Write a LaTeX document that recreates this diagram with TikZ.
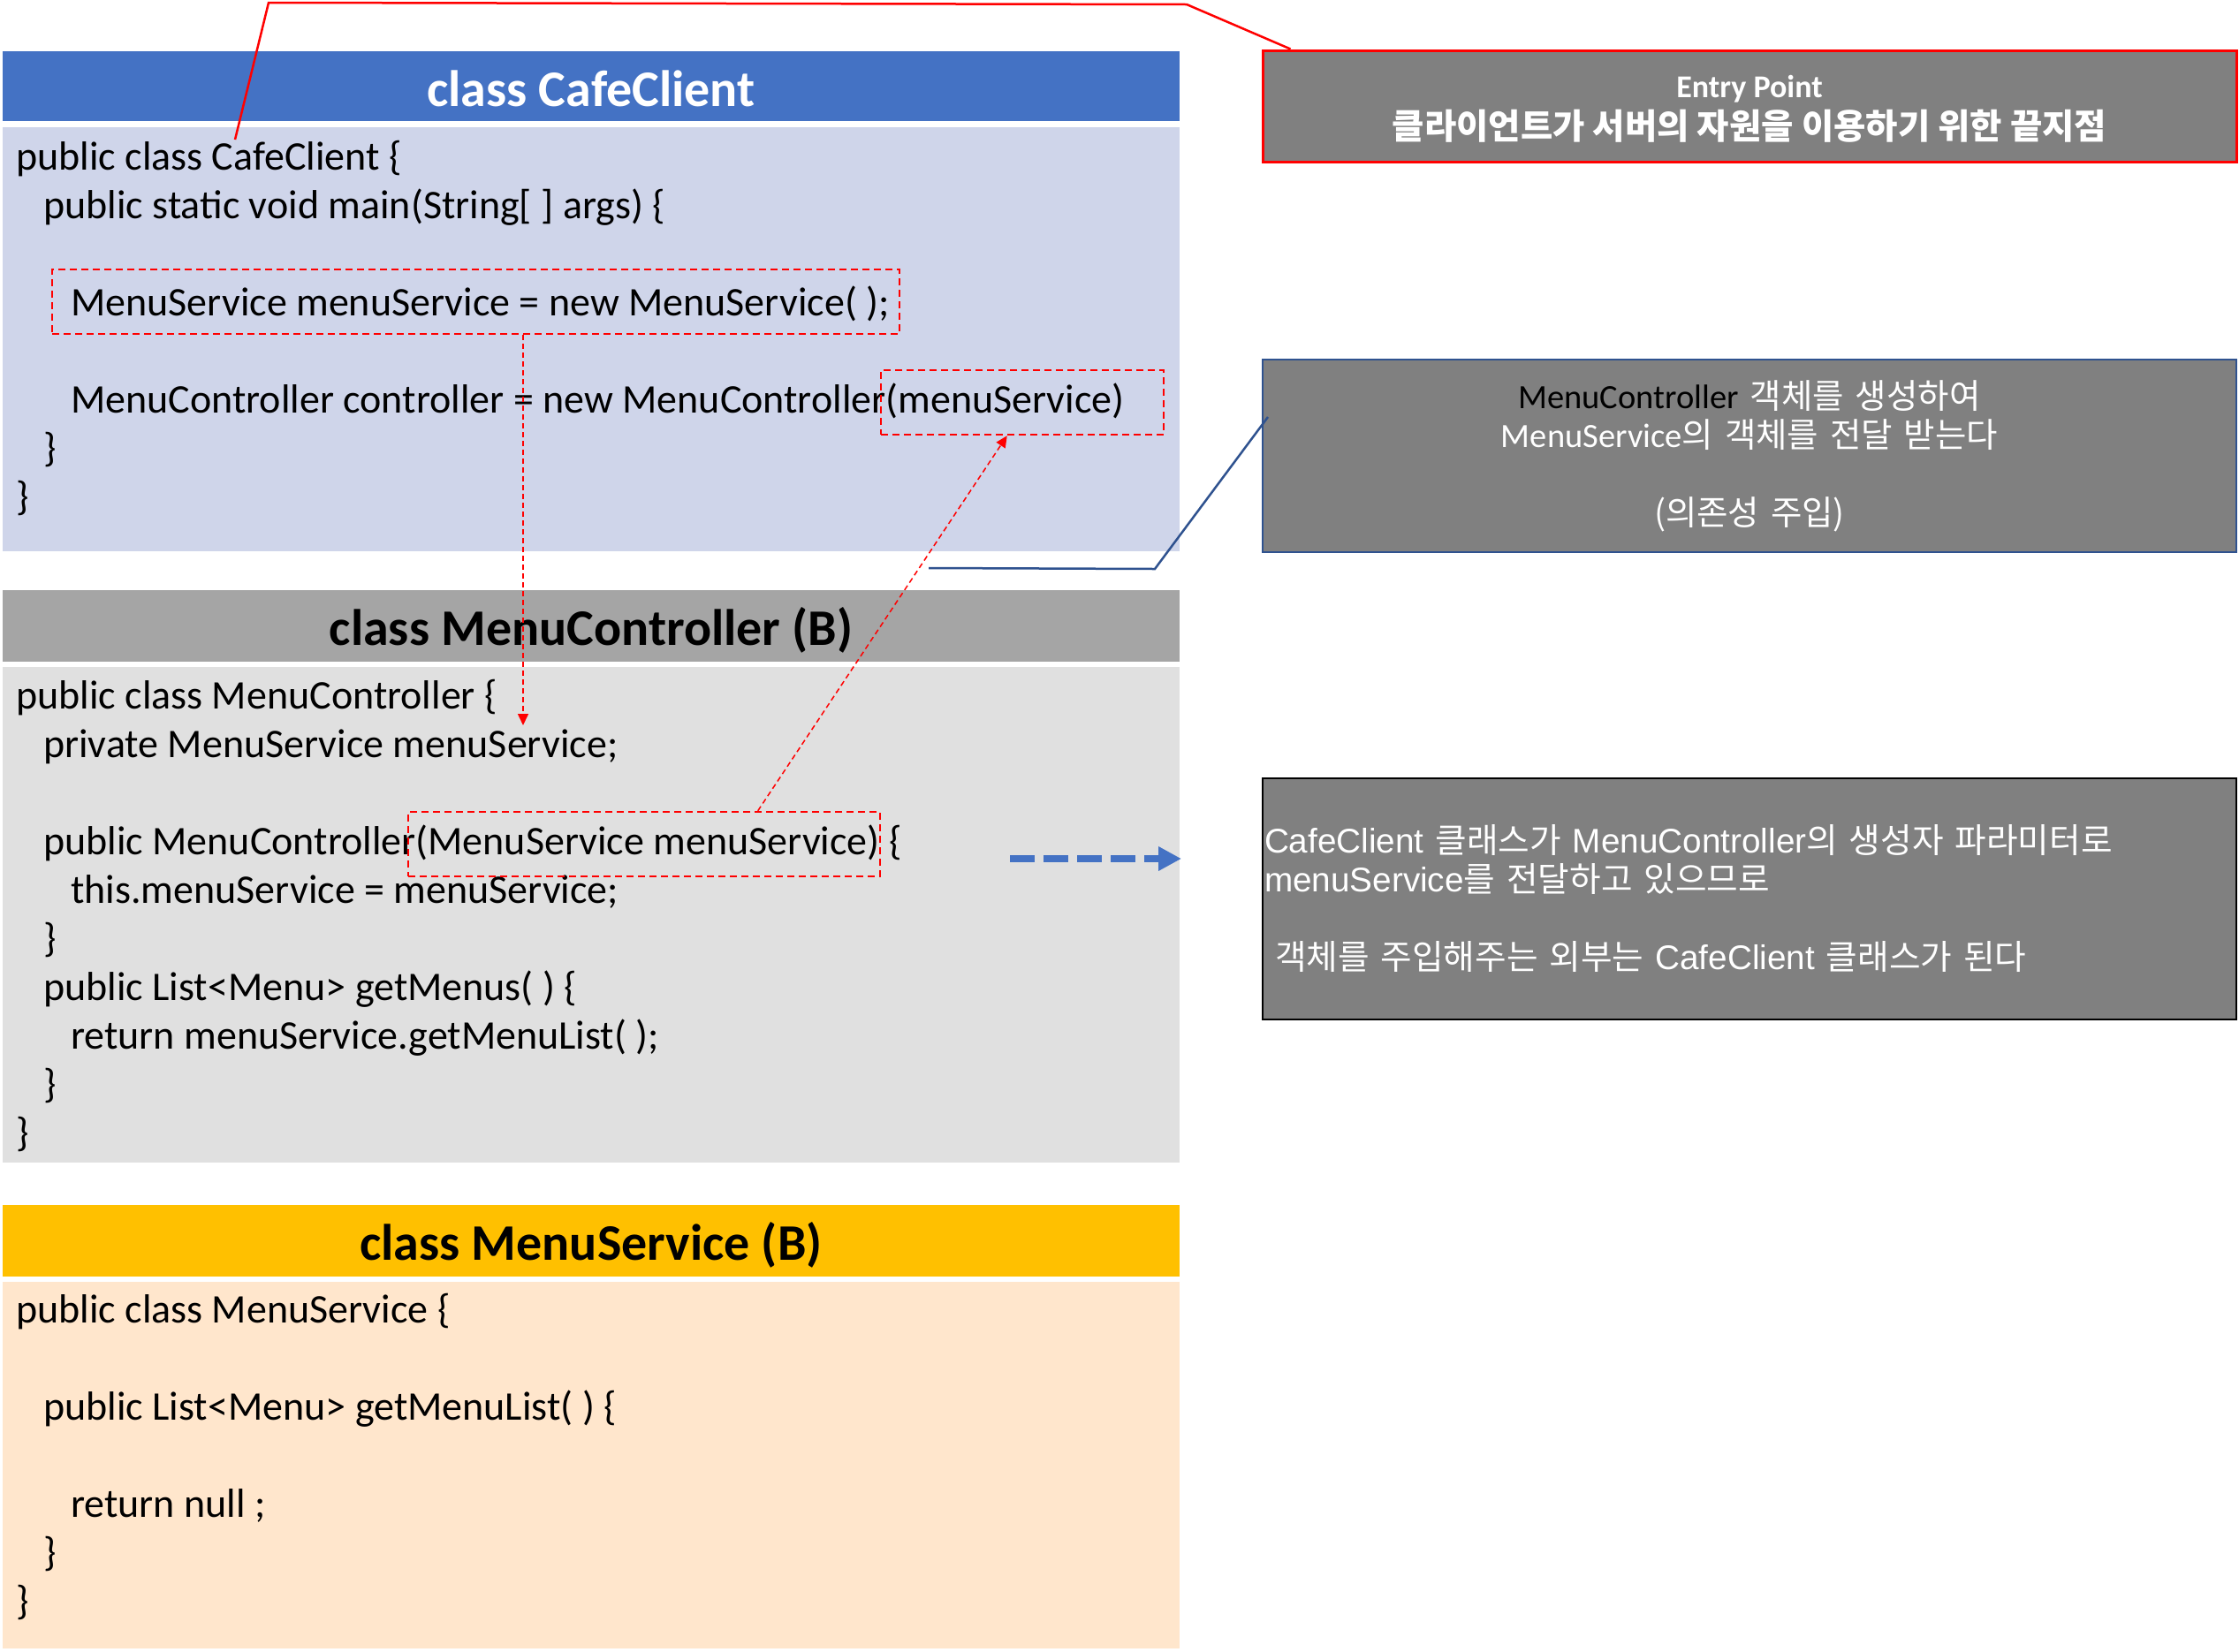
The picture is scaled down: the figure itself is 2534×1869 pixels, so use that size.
\documentclass[tikz,border=0pt]{standalone}
\usepackage{fontspec}
\setmainfont{Carlito}
\newfontfamily\kr{Noto Sans CJK KR}
\newfontfamily\ar{Liberation Sans}
\usetikzlibrary{arrows.meta}
\definecolor{hblue}{HTML}{4472C4}
\definecolor{bblue}{HTML}{CFD5EA}
\definecolor{hgray}{HTML}{A5A5A5}
\definecolor{bgray}{HTML}{E0E0E0}
\definecolor{hyel}{HTML}{FFC000}
\definecolor{byel}{HTML}{FFE6CC}
\definecolor{ngray}{HTML}{808080}
\definecolor{nblue}{HTML}{2F528F}
\definecolor{rred}{HTML}{FF0000}
\begin{document}
\begin{tikzpicture}[x=1pt,y=-1pt,
  panel/.style={rectangle, inner sep=0pt, draw=none, minimum width=1332pt},
  hdrtext/.style={anchor=base, inner sep=0pt, font=\fontsize{58}{66}\selectfont\bfseries},
  code/.style={anchor=base west, inner sep=0pt, font=\fontsize{46}{55}\selectfont},
  note/.style={rectangle, fill=ngray, inner sep=1pt, minimum width=1102pt, text width=1098pt, text=white},
  rbox/.style={rectangle, draw=rred, line width=2.5pt, dash pattern=on 8pt off 5pt, inner sep=0pt},
  rarrow/.style={draw=rred, line width=1.5pt, dash pattern=on 6pt off 4pt, -{Triangle[length=13pt,width=12pt]}},
  bluearrow/.style={draw=hblue, line width=8pt, dash pattern=on 28pt off 10pt, -{Triangle[length=26pt,width=26pt]}}
]
\useasboundingbox (0,0) rectangle (2534,1869);
\fill[white] (0,0) rectangle (2534,1869);

% CafeClient panel
\node[panel, fill=hblue, minimum height=79pt] (h1) at (669,97.5) {};
\node[hdrtext, text=white] (h1t) at (669,120) {class CafeClient};
\node[panel, fill=bblue, minimum height=480pt] (p1) at (669,384) {};
\node[code] (c11) at (18,192) {public class CafeClient \{};
\node[code] (c12) at (49,247) {public static void main(String[ ] args) \{};
\node[code] (c13) at (80,357) {MenuService menuService = new MenuService( );};
\node[code] (c14) at (80,467) {MenuController controller = new MenuController(menuService)};
\node[code] (c15) at (49,522) {\}};
\node[code] (c16) at (18,577) {\}};

% MenuController panel
\node[panel, fill=hgray, minimum height=81pt] (h2) at (669,708.5) {};
\node[hdrtext] (h2t) at (669,730) {class MenuController (B)};
\node[panel, fill=bgray, minimum height=561pt] (p2) at (669,1035.5) {};
\node[code] (c21) at (18,802) {public class MenuController \{};
\node[code] (c22) at (49,857) {private MenuService menuService;};
\node[code] (c23) at (49,967) {public MenuController(MenuService menuService) \{};
\node[code] (c24) at (80,1022) {this.menuService = menuService;};
\node[code] (c25) at (49,1077) {\}};
\node[code] (c26) at (49,1132) {public List<Menu> getMenus( ) \{};
\node[code] (c27) at (80,1187) {return menuService.getMenuList( );};
\node[code] (c28) at (49,1242) {\}};
\node[code] (c29) at (18,1297) {\}};

% MenuService panel
\node[panel, fill=hyel, minimum height=81pt] (h3) at (669,1404.5) {};
\node[hdrtext] (h3t) at (669,1426) {class MenuService (B)};
\node[panel, fill=byel, minimum height=415pt] (p3) at (669,1658.5) {};
\node[code] (c31) at (18,1497) {public class MenuService \{};
\node[code] (c32) at (49,1607) {public List<Menu> getMenuList( ) \{};
\node[code] (c33) at (80,1717) {return null ;};
\node[code] (c34) at (49,1772) {\}};
\node[code] (c35) at (18,1827) {\}};

% dashed red boxes
\node[rbox, minimum width=959pt, minimum height=73pt] (b1) at (538.5,341.5) {};
\node[rbox, minimum width=320pt, minimum height=73pt] (b2) at (1157,455.5) {};
\node[rbox, minimum width=534pt, minimum height=73pt] (b3) at (729,955.5) {};

% notes
\node[note, draw=rred, line width=3pt, minimum height=126pt, align=center,
      font=\fontsize{36}{42}\selectfont] (ep) at (1980,120) {};
\node[inner sep=0pt, align=center, text=white, font=\fontsize{36}{42}\selectfont] (ept) at (1980,123)
  {{\bfseries Entry Point}\\[5pt]{\kr\bfseries\fontsize{39.5}{42}\selectfont 클라이언트가 서버의 자원을 이용하기 위한 끝지점}};
\node[note, draw=nblue, line width=2pt, minimum height=218pt, align=center,
      font=\fontsize{38.5}{44}\selectfont] (n2) at (1980,516)
  {{\color{black}MenuController} {\kr 객체를 생성하여}\\MenuService{\kr 의 객체를 전달 받는다}\\[44pt]{\kr (의존성 주입)}};
\node[note, draw=black, line width=2.5pt, minimum height=273pt, align=left,
      font=\fontsize{38.7}{44}\selectfont\ar] (n3) at (1980,1017.5)
  {CafeClient {\kr 클래스가} MenuController{\kr 의 생성자 파라미터로}\\menuService{\kr 를 전달하고 있으므로}\\[44pt]\hspace*{12pt}{\kr 객체를 주입해주는 외부는} CafeClient {\kr 클래스가 된다}};

% connectors
\coordinate (a1e) at (592,821);
\draw[rarrow] (b1.south -| a1e) -- (a1e);
\path (b3.north west) ++(397,0) coordinate (a2s);
\path (b2.south west) ++(144,0) coordinate (a2e);
\draw[rarrow] (a2s) -- (a2e);

\coordinate (rs) at (266,158);
\path (ep.north west) ++(33,0) coordinate (re);
\draw[rred, line width=2.5pt] (rs) -- (304,3) -- (1343,5) -- (re);

\coordinate (bs) at (1051,643);
\coordinate (be) at (1435,472);
\draw[nblue, line width=2.5pt] (bs) -- (1307,644) -- (be);

\coordinate (ds) at (1143,972);
\coordinate (de) at (1337,972);
\draw[bluearrow] (ds) -- (de);
\end{tikzpicture}
\end{document}
